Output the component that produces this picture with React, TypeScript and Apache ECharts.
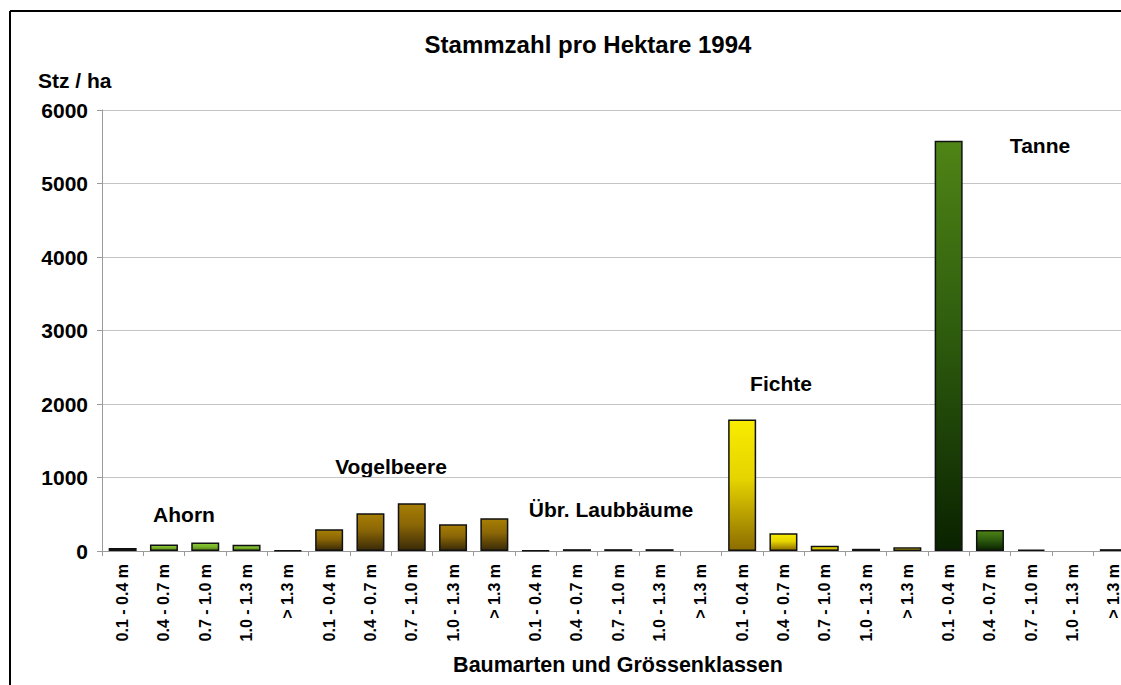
import React, { useEffect, useRef } from "react";
import * as echarts from "echarts";

const sizeClasses = ["0.1 - 0.4 m", "0.4 - 0.7 m", "0.7 - 1.0 m", "1.0 - 1.3 m", "> 1.3 m"];
const species = ["Ahorn", "Vogelbeere", "Übr. Laubbäume", "Fichte", "Tanne"];

const ahorn = [40, 90, 115, 85, 10];
const vogelbeere = [295, 513, 650, 363, 445];
const uebrLaub = [10, 25, 25, 25, 0];
const fichte = [1790, 240, 70, 30, 50];
const tanne = [5580, 285, 20, 0, 25];

const speciesValues = [ahorn, vogelbeere, uebrLaub, fichte, tanne];
const speciesColors: [string, string, string][] = [
  ["#8cc83a", "#7ab52a", "#55801a"],
  ["#a87e04", "#8a6606", "#3a2a08"],
  ["#6a6a40", "#505030", "#2e2e18"],
  ["#f8ec00", "#e6d400", "#8c6c00"],
  ["#4f8416", "#2f5e0e", "#0a2200"],
];

const yTicks = [0, 1000, 2000, 3000, 4000, 5000, 6000];

const FONT = "'Liberation Sans', Arial, Helvetica, sans-serif";

export default function App() {
  const ref = useRef<HTMLDivElement>(null);

  useEffect(() => {
    if (!ref.current) return;
    const chart = echarts.init(ref.current, undefined, { renderer: "svg" });

    const categories: string[] = [];
    const data: any[] = [];
    speciesValues.forEach((vals, si) => {
      vals.forEach((v, ci) => {
        categories.push(sizeClasses[ci]);
        data.push({
          value: v,
          itemStyle: {
            borderWidth: v === 0 ? 0 : 1.5,
            color: new echarts.graphic.LinearGradient(0, 0, 0, 1, [
              { offset: 0, color: speciesColors[si][0] },
              { offset: 0.45, color: speciesColors[si][1] },
              { offset: 1, color: speciesColors[si][2] },
            ]),
          },
        });
      });
    });

    const groupLabels = [
      { text: species[0], x: 184, y: 514 },
      { text: species[1], x: 391, y: 466 },
      { text: species[2], x: 611, y: 509 },
      { text: species[3], x: 781, y: 383 },
      { text: species[4], x: 1040, y: 145 },
    ];

    chart.setOption({
      animation: false,
      backgroundColor: "#ffffff",
      grid: {
        left: 102,
        top: 110,
        right: -13.5,
        bottom: 134,
        containLabel: false,
        outerBoundsMode: "none",
      },
      xAxis: {
        type: "category",
        data: categories,
        boundaryGap: true,
        axisLine: { show: true, lineStyle: { color: "#9a9a9a", width: 1 } },
        axisTick: { show: true, length: 5, inside: false, alignWithLabel: false, interval: 0, lineStyle: { color: "#9a9a9a" } },
        axisLabel: {
          interval: 0,
          rotate: 90,
          margin: 13,
          fontFamily: FONT,
          fontWeight: "bold",
          fontSize: 16,
          color: "#000",
        },
        splitLine: { show: false },
      },
      yAxis: {
        type: "value",
        min: yTicks[0],
        max: yTicks[yTicks.length - 1],
        interval: 1000,
        axisLine: { show: true, lineStyle: { color: "#9a9a9a", width: 1 } },
        axisTick: { show: true, length: 5, lineStyle: { color: "#9a9a9a" } },
        axisLabel: {
          margin: 14,
          fontFamily: FONT,
          fontWeight: "bold",
          fontSize: 21,
          color: "#000",
          formatter: (v: number) => String(v),
        },
        splitLine: { show: true, lineStyle: { color: "#c4c4c4", width: 1 } },
      },
      series: [
        {
          type: "bar",
          data,
          barWidth: 28,
          itemStyle: { borderColor: "#111", borderWidth: 1.5 },
        },
      ],
      graphic: [
        { type: "line", shape: { x1: 10, y1: 11, x2: 1121, y2: 11 }, style: { stroke: "#000", lineWidth: 2 } },
        { type: "line", shape: { x1: 10, y1: 11, x2: 10, y2: 685 }, style: { stroke: "#000", lineWidth: 2 } },
        {
          type: "text",
          x: 588,
          y: 44,
          style: { text: "Stammzahl pro Hektare 1994", fontFamily: FONT, fontWeight: "bold", fontSize: 24, fill: "#000", align: "center", verticalAlign: "middle" },
        },
        {
          type: "text",
          x: 38,
          y: 80,
          style: { text: "Stz / ha", fontFamily: FONT, fontWeight: "bold", fontSize: 21, fill: "#000", align: "left", verticalAlign: "middle" },
        },
        {
          type: "text",
          x: 618,
          y: 665,
          style: { text: "Baumarten und Grössenklassen", fontFamily: FONT, fontWeight: "bold", fontSize: 21.5, fill: "#000", align: "center", verticalAlign: "middle" },
        },
        ...groupLabels.map((g) => ({
          type: "text",
          x: g.x,
          y: g.y,
          style: { text: g.text, fontFamily: FONT, fontWeight: "bold", fontSize: 21, fill: "#000", align: "center", verticalAlign: "middle" },
        })),
      ],
    });

    return () => chart.dispose();
  }, []);

  return (
    <div
      ref={ref}
      style={{ position: "fixed", left: 0, top: 0, width: 1121, height: 685, background: "#fff" }}
    />
  );
}
